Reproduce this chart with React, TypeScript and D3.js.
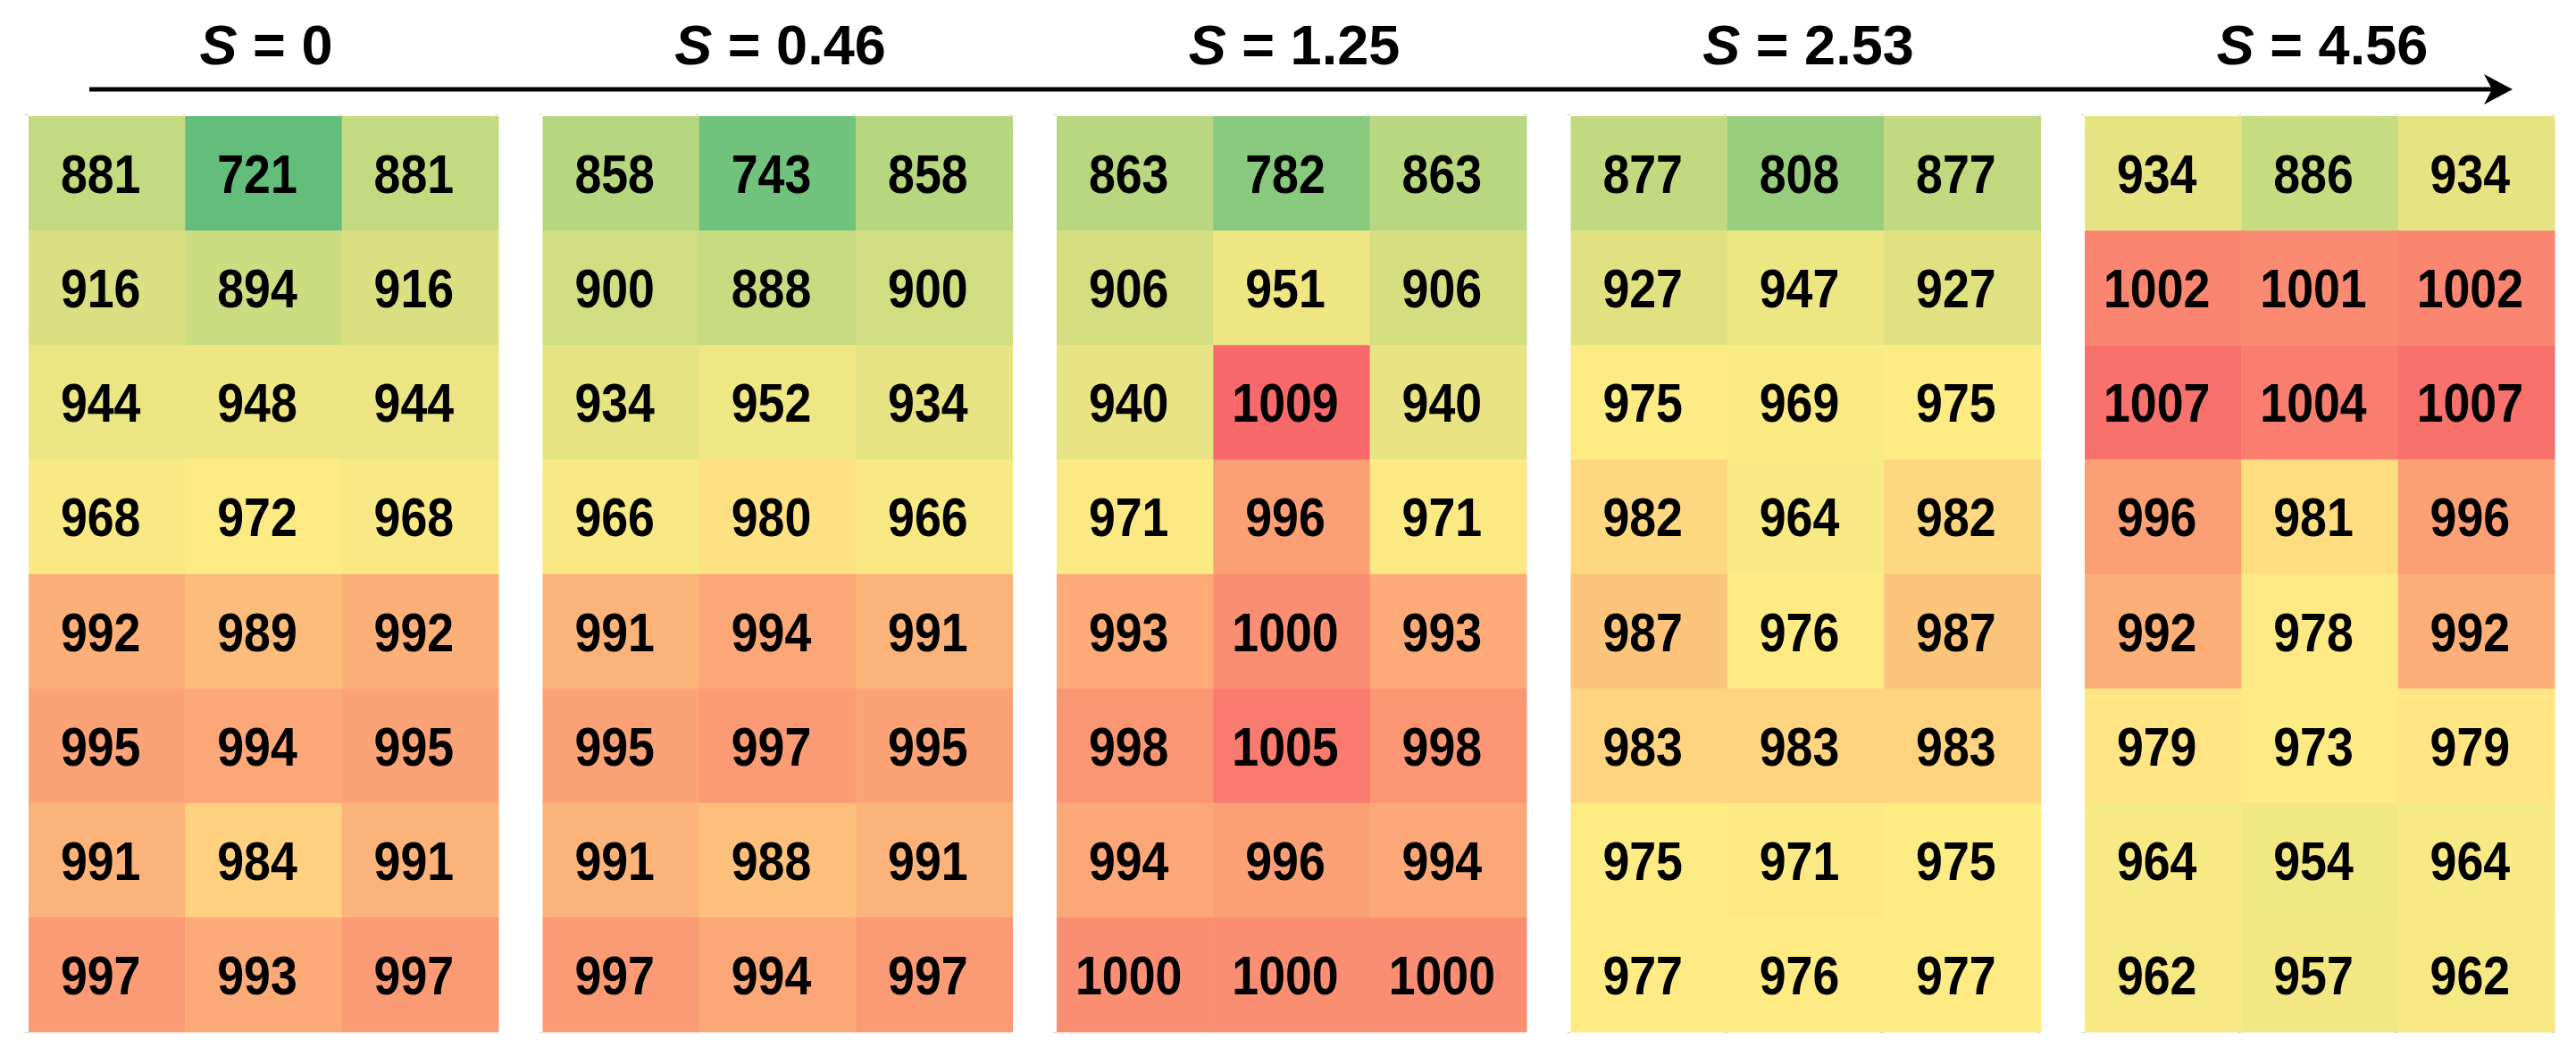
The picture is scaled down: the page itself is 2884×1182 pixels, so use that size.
import * as d3 from 'd3';

// S values shown above each panel
const sLabels = ['0', '0.46', '1.25', '2.53', '4.56'];
const columns = ['left', 'center', 'right'];

// 8 rows x 3 columns per panel, top to bottom
const s0 = [
  [881, 721, 881],
  [916, 894, 916],
  [944, 948, 944],
  [968, 972, 968],
  [992, 989, 992],
  [995, 994, 995],
  [991, 984, 991],
  [997, 993, 997],
];
const s046 = [
  [858, 743, 858],
  [900, 888, 900],
  [934, 952, 934],
  [966, 980, 966],
  [991, 994, 991],
  [995, 997, 995],
  [991, 988, 991],
  [997, 994, 997],
];
const s125 = [
  [863, 782, 863],
  [906, 951, 906],
  [940, 1009, 940],
  [971, 996, 971],
  [993, 1000, 993],
  [998, 1005, 998],
  [994, 996, 994],
  [1000, 1000, 1000],
];
const s253 = [
  [877, 808, 877],
  [927, 947, 927],
  [975, 969, 975],
  [982, 964, 982],
  [987, 976, 987],
  [983, 983, 983],
  [975, 971, 975],
  [977, 976, 977],
];
const s456 = [
  [934, 886, 934],
  [1002, 1001, 1002],
  [1007, 1004, 1007],
  [996, 981, 996],
  [992, 978, 992],
  [979, 973, 979],
  [964, 954, 964],
  [962, 957, 962],
];

const panels = [s0, s046, s125, s253, s456];

const W = 2884;
const H = 1182;

export default function App() {
  const all = panels.flat(2);
  const color = d3
    .scaleLinear<string>()
    .domain([d3.min(all)!, d3.median(all)!, d3.max(all)!])
    .range(['#63BE7B', '#FFEB84', '#F8696B'])
    .interpolate(d3.interpolateRgb);

  const px = d3.scaleBand<number>()
    .domain(d3.range(panels.length))
    .range([32, 2860])
    .paddingInner(0.086);
  const cx = d3.scaleBand<number>().domain(d3.range(columns.length)).range([0, px.bandwidth()]);
  const ry = d3.scaleBand<number>().domain(d3.range(8)).range([130, 1155]);

  const font = '"Liberation Sans", Arial, sans-serif';

  return (
    <svg width={W} height={H} style={{ position: 'absolute', left: 0, top: 0, background: '#fff' }}>
      {/* arrow */}
      <line x1={100} x2={2792} y1={100} y2={100} stroke="#000" strokeWidth={5} />
      <path d="M2813,100 L2781,83 L2790,100 L2781,117 Z" fill="#000" />

      {panels.map((grid, p) => {
        const x0 = px(p)!;
        return (
          <g key={p} transform={`translate(${x0},0)`}>
            <text
              x={px.bandwidth() / 2 + 3}
              y={72}
              textAnchor="middle"
              fontFamily={font}
              fontWeight="bold"
              fontSize={63}
            >
              <tspan fontStyle="italic">S</tspan>
              {` = ${sLabels[p]}`}
            </text>
            {grid.map((row, r) =>
              row.map((v, c) => (
                <rect
                  key={`${r}-${c}`}
                  x={cx(c)!}
                  y={ry(r)!}
                  width={cx.bandwidth() + 0.5}
                  height={ry.bandwidth() + 0.5}
                  fill={color(v)}
                />
              ))
            )}
            {grid.map((row, r) =>
              row.map((v, c) => (
                <text
                  key={`t${r}-${c}`}
                  transform={`translate(${cx(c)! + cx.bandwidth() / 2 - 7},${ry(r)! + ry.bandwidth() / 2 + 22}) scale(0.88,1)`}
                  textAnchor="middle"
                  fontFamily={font}
                  fontWeight="bold"
                  fontSize={61}
                  fill="#000"
                >
                  {v}
                </text>
              ))
            )}
            {d3.range(columns.length + 1).map((i) => {
              const bx = i === 0 ? 0 : cx.step() * i;
              return (
                <g key={`k${i}`} stroke="#d0d0d0" strokeWidth={1}>
                  <line x1={bx - 4} x2={bx} y1={128.5} y2={128.5} />
                  <line x1={bx - 4} x2={bx} y1={1155.5} y2={1155.5} />
                </g>
              );
            })}
          </g>
        );
      })}
    </svg>
  );
}
